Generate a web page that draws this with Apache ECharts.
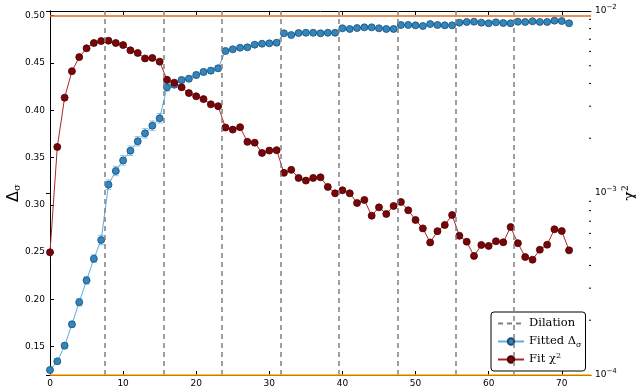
<!DOCTYPE html>
<html><head><meta charset="utf-8">
<script src="https://cdn.jsdelivr.net/npm/echarts@6/dist/echarts.min.js"></script>
<style>html,body{margin:0;padding:0;background:#fff}#c{width:636px;height:392px}</style>
</head><body><div id="c"></div>
<script>
const steps = [0,1,2,3,4,5,6,7,8,9,10,11,12,13,14,15,16,17,18,19,20,21,22,23,24,25,26,27,28,29,30,31,32,33,34,35,36,37,38,39,40,41,42,43,44,45,46,47,48,49,50,51,52,53,54,55,56,57,58,59,60,61,62,63,64,65,66,67,68,69,70,71];
const deltaSigma = [0.1253,0.1345,0.151,0.1736,0.197,0.2201,0.243,0.2628,0.3213,0.3358,
  0.347,0.3572,0.3672,0.3756,0.3837,0.3915,0.4243,0.427,0.432,0.4334,
  0.4373,0.4405,0.4419,0.4444,0.4627,0.4645,0.4662,0.4666,0.4694,0.4704,
  0.4708,0.4715,0.4814,0.4796,0.4817,0.482,0.482,0.4814,0.482,0.482,
  0.4867,0.486,0.487,0.4877,0.4877,0.4867,0.486,0.486,0.4902,0.4902,
  0.4898,0.4891,0.4912,0.4902,0.4898,0.4898,0.4927,0.4934,0.4937,0.4927,
  0.492,0.493,0.4923,0.492,0.4937,0.4934,0.4941,0.4934,0.4934,0.4948,
  0.4944,0.492];
const sigmaErr = [0.002,0.002,0.003,0.003,0.004,0.004,0.004,0.005,0.005,0.005,
  0.005,0.005,0.005,0.005,0.005,0.005,0.004,0.003,0.003,0.003,
  0.003,0.003,0.003,0.003,0.002,0.002,0.002,0.002,0.002,0.002,
  0.002,0.002,0.0015,0.0015,0.0015,0.0015,0.0015,0.0015,0.0015,0.0015,
  0.0015,0.0015,0.0015,0.0015,0.0015,0.0015,0.0015,0.0015,0.0015,0.0015,
  0.0015,0.0015,0.0015,0.0015,0.0015,0.0015,0.0015,0.0015,0.0015,0.0015,
  0.0015,0.0015,0.0015,0.0015,0.0015,0.0015,0.0015,0.0015,0.0015,0.0015,
  0.0015,0.0015];
const chi2 = [4.72e-4,1.79e-3,3.34e-3,4.67e-3,5.58e-3,6.24e-3,6.67e-3,6.84e-3,6.87e-3,6.67e-3,
  6.50e-3,6.08e-3,5.88e-3,5.49e-3,5.52e-3,5.27e-3,4.19e-3,4.04e-3,3.81e-3,3.54e-3,
  3.40e-3,3.28e-3,3.07e-3,3.00e-3,2.29e-3,2.23e-3,2.30e-3,1.91e-3,1.89e-3,1.66e-3,
  1.71e-3,1.72e-3,1.29e-3,1.34e-3,1.21e-3,1.17e-3,1.21e-3,1.22e-3,1.08e-3,9.96e-4,
  1.035e-3,9.96e-4,8.81e-4,9.16e-4,7.50e-4,8.34e-4,7.67e-4,8.49e-4,8.93e-4,8.04e-4,
  7.11e-4,6.39e-4,5.35e-4,6.17e-4,6.67e-4,7.57e-4,5.82e-4,5.40e-4,4.51e-4,5.18e-4,
  5.12e-4,5.43e-4,5.36e-4,6.50e-4,5.30e-4,4.45e-4,4.30e-4,4.88e-4,5.20e-4,6.32e-4,
  6.18e-4,4.84e-4];
const dilations = [7.5,15.5,23.5,31.5,39.5,47.5,55.5,63.5];
const limitLines = [0.5, 0.1235];
const xTicks = [0,10,20,30,40,50,60,70];
const yTicks = [0.15,0.20,0.25,0.30,0.35,0.40,0.45,0.50];
const logTicks = [1e-4,1e-3,1e-2];
const logMinor = [2e-4,3e-4,4e-4,5e-4,6e-4,7e-4,8e-4,9e-4,2e-3,3e-3,4e-3,5e-3,6e-3,7e-3,8e-3,9e-3];

const X_MIN = 0, X_MAX = 74;
const sans = 'DejaVu Sans', serif = 'DejaVu Serif';
const frameLine = {show:true, lineStyle:{color:'#000', width:1}};

const chart = echarts.init(document.getElementById('c'), null, {renderer:'canvas'});
chart.setOption({
  animation:false,
  backgroundColor:'#fff',
  grid:{left:50, right:45, top:11, bottom:17, containLabel:false, outerBoundsMode:'none'},
  xAxis:[
    {type:'value', min:X_MIN, max:X_MAX, position:'bottom', axisLine:frameLine,
     axisTick:{inside:true, length:4, customValues:xTicks, lineStyle:{color:'#000'}},
     axisLabel:{customValues:xTicks, fontSize:9, color:'#000', fontFamily:sans, margin:4},
     splitLine:{show:false}},
    {type:'value', min:X_MIN, max:X_MAX, position:'top', axisLine:frameLine,
     axisTick:{inside:true, length:4, customValues:xTicks, lineStyle:{color:'#000'}},
     axisLabel:{show:false}, splitLine:{show:false}}
  ],
  yAxis:[
    {type:'value', min:0.12, max:0.505, position:'left', axisLine:frameLine,
     axisTick:{inside:true, length:4, customValues:yTicks, lineStyle:{color:'#000'}},
     axisLabel:{customValues:yTicks, fontSize:9, color:'#000', fontFamily:sans, margin:5,
       formatter:v=>v.toFixed(2)},
     splitLine:{show:false},
     name:'Δ{sub|σ}', nameLocation:'middle', nameRotate:90, nameGap:28, nameMoveOverlap:false,
     nameTextStyle:{fontSize:16, fontFamily:sans, color:'#000',
       rich:{sub:{fontSize:10, fontFamily:serif, padding:[0,0,0,0], verticalAlign:'bottom'}}}},
    {type:'log', logBase:10, min:1e-4, max:1e-2, position:'right', axisLine:frameLine,
     axisTick:{inside:true, length:4, customValues:logTicks, lineStyle:{color:'#000'}},
     axisLabel:{customValues:logTicks, fontSize:9, color:'#000', fontFamily:sans, margin:4,
       formatter:v=>'10{sup|−'+Math.round(-Math.log10(v))+'}',
       rich:{sup:{fontSize:7, fontFamily:sans, padding:[0,0,8,0]}}},
     splitLine:{show:false},
     name:'χ{sup|2}', nameLocation:'middle', nameRotate:90, nameGap:30, nameMoveOverlap:false,
     nameTextStyle:{fontSize:16, fontFamily:serif, color:'#000',
       rich:{sup:{fontSize:9, fontFamily:serif, padding:[0,0,10,0]}}}}
  ],
  legend:{
    data:[{name:'Dilation', itemStyle:{opacity:0}},'Fitted Δσ','Fit χ2'],
    orient:'vertical', left:491, top:312,
    padding:[4,4,4,6], itemWidth:26, itemHeight:8, itemGap:3,
    backgroundColor:'#fff', borderColor:'#000', borderWidth:1, borderRadius:3,
    selectedMode:false,
    formatter:n=>({'Fitted Δσ':'Fitted Δ{sub|σ}','Fit χ2':'Fit χ{sup|2}'}[n]||n),
    textStyle:{fontFamily:serif, fontSize:11.5, color:'#000', lineHeight:15,
      rich:{sub:{fontSize:8, fontFamily:serif, padding:[6,0,0,0]},
            sup:{fontSize:8, fontFamily:serif, padding:[0,0,7,0]}}}
  },
  series:[
    {name:'Dilation', type:'line', data:[], symbol:'none',
     lineStyle:{color:'#808080', width:1.5, type:[5,4]},
     itemStyle:{color:'#808080'},
     markLine:{silent:true, symbol:'none', label:{show:false},
       lineStyle:{color:'#808080', width:1.5, type:[5,4]},
       data:dilations.map(x=>({xAxis:x}))}},
    {name:'limits', type:'line', data:[], symbol:'none',
     markLine:{silent:true, symbol:'none', label:{show:false},
       data:[{yAxis:limitLines[0], lineStyle:{color:'#e8681c', width:1.5, type:'solid'}},
             {yAxis:limitLines[1], lineStyle:{color:'#ffaa00', width:1.5, type:'solid'}}]}},
    {name:'errbars', type:'custom', z:1,
     data:steps.map((x,i)=>[x, deltaSigma[i]-sigmaErr[i], deltaSigma[i]+sigmaErr[i]]),
     renderItem:(params, api)=>{
       const lo = api.coord([api.value(0), api.value(1)]);
       const hi = api.coord([api.value(0), api.value(2)]);
       const st = {stroke:'#8cc4ea', lineWidth:1};
       return {type:'group', children:[
         {type:'line', shape:{x1:lo[0], y1:lo[1], x2:hi[0], y2:hi[1]}, style:st},
         {type:'line', shape:{x1:lo[0]-3, y1:lo[1], x2:lo[0]+3, y2:lo[1]}, style:st},
         {type:'line', shape:{x1:hi[0]-3, y1:hi[1], x2:hi[0]+3, y2:hi[1]}, style:st}
       ]};
     }},
    {name:'Fitted Δσ', type:'line', z:3,
     data:steps.map((x,i)=>[x, deltaSigma[i]]),
     symbol:'circle', symbolSize:7, showAllSymbol:true,
     lineStyle:{color:'#5aaee2', width:1},
     itemStyle:{color:'#3186bf', borderColor:'#1d4d6e', borderWidth:0.8}},
    {name:'Fit χ2', type:'line', yAxisIndex:1, z:3,
     data:steps.map((x,i)=>[x, chi2[i]]),
     symbol:'circle', symbolSize:7, showAllSymbol:true,
     lineStyle:{color:'#a8282a', width:1},
     itemStyle:{color:'#7a0508', borderColor:'#4a0000', borderWidth:0.8}},
    {name:'minorTicks', type:'custom', yAxisIndex:1, silent:true,
     data:logMinor.map(v=>[X_MAX, v]),
     renderItem:(params, api)=>{
       const p = api.coord([api.value(0), api.value(1)]);
       return {type:'line', shape:{x1:p[0], y1:p[1], x2:p[0]-2, y2:p[1]}, style:{stroke:'#000', lineWidth:1}};
     }}
  ]
});
</script></body></html>
